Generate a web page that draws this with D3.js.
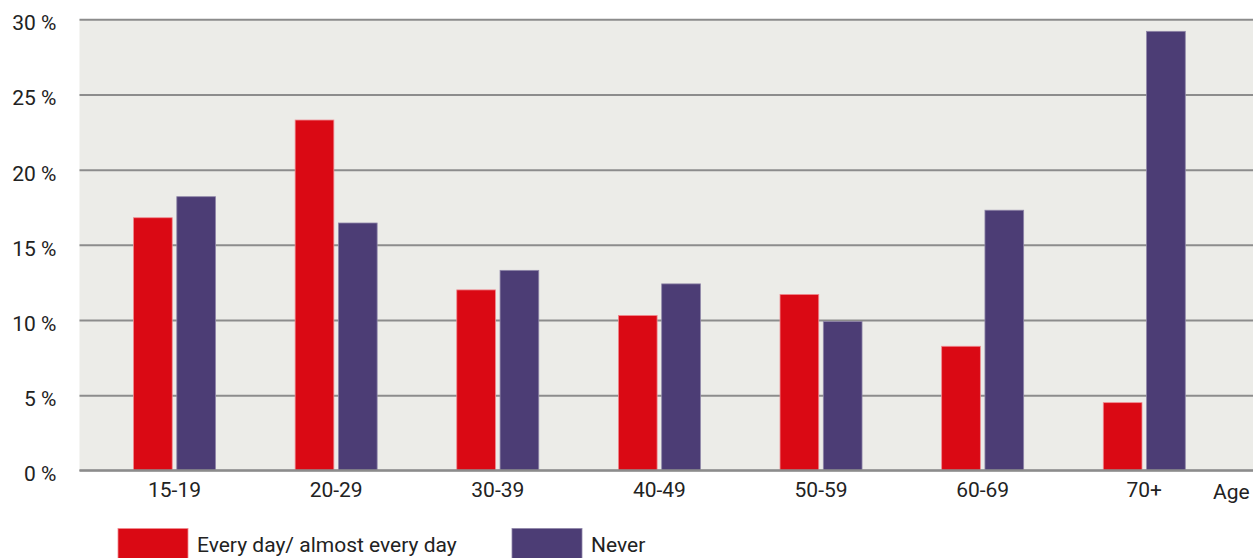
<!DOCTYPE html>
<html>
<head>
<meta charset="utf-8">
<script src="https://cdn.jsdelivr.net/npm/d3@7"></script>
<style>
  html, body { margin: 0; padding: 0; background: #ffffff; }
  svg { display: block; }
  text { font-family: Roboto, "DejaVu Sans", sans-serif; fill: #222; }
</style>
</head>
<body>
<svg id="chart" width="1253" height="558"></svg>
<script>
const categories = ["15-19", "20-29", "30-39", "40-49", "50-59", "60-69", "70+"];
const seriesNames = ["Every day/ almost every day", "Never"];
const everyDay = [16.8, 23.3, 12.0, 10.3, 11.7, 8.25, 4.5];
const never = [18.2, 16.45, 13.3, 12.4, 9.9, 17.3, 29.2];
const yTicks = [0, 5, 10, 15, 20, 25, 30];
const colors = ["#DA0914", "#4C3D75"];
const strokes = ["#F08A90", "#8F86A8"];

const FS = 21;
const svg = d3.select("#chart");
const plot = { left: 79.5, right: 1253, top: 19.3, bottom: 470.3 };

const y = d3.scaleLinear().domain([0, 30]).range([plot.bottom, plot.top]);
const x0 = d3.scaleBand().domain(categories).range([93.7, 1225.1]).padding(0);
const bw = x0.bandwidth();
const x1 = d3.scaleBand().domain(seriesNames).range([bw / 2 - 41, bw / 2 + 41]).paddingInner(0.106).paddingOuter(0);

// background
svg.append("rect")
  .attr("x", plot.left).attr("y", plot.top)
  .attr("width", plot.right - plot.left).attr("height", plot.bottom - plot.top)
  .attr("fill", "#ECECE8");

// gridlines + y labels
const yAxis = d3.axisLeft(y).tickValues(yTicks)
  .tickSize(-(plot.right - plot.left)).tickFormat(d => d + " %").tickPadding(23);
const gy = svg.append("g").attr("transform", `translate(${plot.left},0)`).call(yAxis);
gy.select(".domain").remove();
gy.selectAll(".tick line").attr("stroke", "#8C8C8C").attr("stroke-width", 2);
gy.selectAll(".tick text")
  .attr("font-size", FS).attr("fill", "#222").attr("dy", "0.5em")
  .attr("font-family", "Roboto, 'DejaVu Sans', sans-serif");

// bars
const data = categories.map((c, i) => ({ cat: c, vals: [everyDay[i], never[i]] }));
const groups = svg.append("g").selectAll("g").data(data).join("g")
  .attr("transform", d => `translate(${x0(d.cat)},0)`);
groups.selectAll("rect")
  .data(d => d.vals.map((v, j) => ({ s: seriesNames[j], v, j })))
  .join("rect")
  .attr("x", d => x1(d.s))
  .attr("width", x1.bandwidth())
  .attr("y", d => y(d.v))
  .attr("height", d => y(0) - y(d.v))
  .attr("fill", d => colors[d.j])
  .attr("stroke", d => strokes[d.j])
  .attr("stroke-width", 0.8);

// redraw baseline on top
svg.append("line")
  .attr("x1", plot.left).attr("x2", plot.right)
  .attr("y1", y(0)).attr("y2", y(0))
  .attr("stroke", "#8C8C8C").attr("stroke-width", 2);

// x axis labels
const xAxis = d3.axisBottom(x0).tickSize(0).tickPadding(12);
const gx = svg.append("g").attr("transform", `translate(0,${plot.bottom})`).call(xAxis);
gx.select(".domain").remove();
gx.selectAll(".tick text").attr("font-size", FS).attr("fill", "#222")
  .attr("font-family", "Roboto, 'DejaVu Sans', sans-serif");

svg.append("text").attr("x", 1213).attr("y", 498.5)
  .attr("font-size", FS).text("Age");

// legend
const legendX = [118, 512];
const legend = svg.append("g").selectAll("g").data(seriesNames).join("g")
  .attr("transform", (d, i) => `translate(${legendX[i]},528.5)`);
legend.append("rect").attr("width", 70).attr("height", 32)
  .attr("fill", (d, i) => colors[i]).attr("stroke", (d, i) => strokes[i]).attr("stroke-width", 0.8);
legend.append("text").attr("x", 79).attr("y", 23.5).attr("font-size", FS).text(d => d);
</script>
</body>
</html>
